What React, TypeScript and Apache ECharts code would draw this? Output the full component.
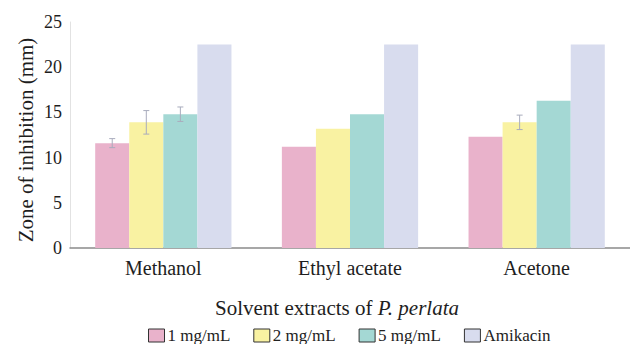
import React, { useEffect, useRef } from "react";
import * as echarts from "echarts";

const categories = ["Methanol", "Ethyl acetate", "Acetone"];
const seriesNames = ["1 mg/mL", "2 mg/mL", "5 mg/mL", "Amikacin"];
const v1 = [11.6, 11.2, 12.3];
const v2 = [13.9, 13.2, 13.9];
const v5 = [14.8, 14.8, 16.3];
const vAmi = [22.5, 22.5, 22.5];
const e1 = [0.5, 0, 0];
const e2 = [1.3, 0, 0.8];
const e5 = [0.8, 0, 0];
const eAmi = [0, 0, 0];
const yTicks = [0, 5, 10, 15, 20, 25];
const xTitleA = "Solvent extracts of ";
const xTitleB = "P. perlata";
const yTitle = "Zone of inhibition (mm)";

const colors = ["#e9b2cb", "#f9f2a2", "#a4d8d4", "#d8dcee"];
const FONT = "Liberation Serif";
const GAP = 0.27;

function measure(text: string, font: string) {
  const ctx = document.createElement("canvas").getContext("2d");
  if (!ctx) return text.length * 9;
  ctx.font = font;
  return ctx.measureText(text).width;
}

export default function App() {
  const ref = useRef<HTMLDivElement>(null);
  useEffect(() => {
    if (!ref.current) return;
    const chart = echarts.init(ref.current, null, { renderer: "svg" });
    const values = [v1, v2, v5, vAmi];
    const errs = [e1, e2, e5, eAmi];
    const bars = values.map((vals, i) => ({
      type: "bar",
      name: seriesNames[i],
      data: vals,
      barGap: "0%",
      barCategoryGap: GAP * 100 + "%",
      itemStyle: { color: colors[i] },
    }));
    const errSeries = values.map((vals, i) => ({
      type: "custom",
      name: "err" + i,
      data: vals.map((v, k) => [k, v, errs[i][k]]),
      z: 5,
      renderItem: (params: any, api: any) => {
        const k = api.value(0);
        const v = api.value(1);
        const e = api.value(2);
        if (!e) return null;
        const bandW = api.size([1, 0])[0];
        const barW = (bandW * (1 - GAP)) / 4;
        const c = api.coord([k, v]);
        const x = c[0] + (i - 1.5) * barW;
        const top = api.coord([k, v + e])[1];
        const bot = api.coord([k, v - e])[1];
        const st = { stroke: "#a9acbd", lineWidth: 1 };
        return {
          type: "group",
          children: [
            { type: "line", shape: { x1: x, y1: top, x2: x, y2: bot }, style: st },
            { type: "line", shape: { x1: x - 3, y1: top, x2: x + 3, y2: top }, style: st },
            { type: "line", shape: { x1: x - 3, y1: bot, x2: x + 3, y2: bot }, style: st },
          ],
        };
      },
    }));
    chart.setOption({
      animation: false,
      backgroundColor: "#ffffff",
      grid: { left: 70, right: -10, top: 22, bottom: 96, containLabel: false },
      legend: {
        data: seriesNames,
        left: 148,
        top: 327,
        padding: 0,
        itemWidth: 16,
        itemHeight: 13,
        itemGap: 23,
        icon: "rect",
        itemStyle: { borderColor: "#333", borderWidth: 1 },
        textStyle: { fontFamily: FONT, fontSize: 17, color: "#222", padding: [0, 0, 0, -2] },
      },
      xAxis: {
        type: "category",
        data: categories,
        axisLine: { show: true, lineStyle: { color: "#8a8a8a", width: 1.5 } },
        axisTick: { show: false },
        axisLabel: { show: false },
      },
      yAxis: {
        type: "value",
        min: 0,
        max: 25,
        interval: 5,
        axisLine: { show: true, lineStyle: { color: "#e2e2e2" } },
        axisTick: { show: false },
        splitLine: { show: false },
        axisLabel: { show: false },
      },
      series: [...bars, ...errSeries],
    });

    const texts: any[] = [];
    const txt = (text: string, x: number, y: number, size: number, extra: any = {}) => {
      const style: any = { text, fontFamily: FONT, fontSize: size, fill: "#1e1e1e" };
      if (extra.italic) style.fontStyle = "italic";
      const el: any = { type: "text", x, y, style };
      if (extra.rotation) el.rotation = extra.rotation;
      return el;
    };
    categories.forEach((c) => {
      const px = chart.convertToPixel({ xAxisIndex: 0 }, c) as number;
      const w = measure(c, "20px " + FONT);
      texts.push(txt(c, px - w / 2, 258, 20));
    });
    yTicks.forEach((t) => {
      const py = chart.convertToPixel({ yAxisIndex: 0 }, t) as number;
      const w = measure(String(t), "18px " + FONT);
      texts.push(txt(String(t), 62 - w, py - 9, 18));
    });
    const wA = measure(xTitleA, "21px " + FONT);
    const wB = measure(xTitleB, "italic 21px " + FONT);
    const left = 337 - (wA + wB) / 2;
    texts.push(txt(xTitleA, left, 297, 21));
    texts.push(txt(xTitleB, left + wA, 297, 21, { italic: true }));
    const y0 = chart.convertToPixel({ yAxisIndex: 0 }, 0) as number;
    const y25 = chart.convertToPixel({ yAxisIndex: 0 }, 25) as number;
    const wY = measure(yTitle, "21px " + FONT);
    const cy = (y0 + y25) / 2 + 5;
    texts.push(txt(yTitle, 15, cy + wY / 2, 21, { rotation: Math.PI / 2 }));
    chart.setOption({ graphic: texts });
    return () => chart.dispose();
  }, []);
  return <div ref={ref} style={{ width: 630, height: 344, position: "absolute", left: 0, top: 0 }} />;
}
